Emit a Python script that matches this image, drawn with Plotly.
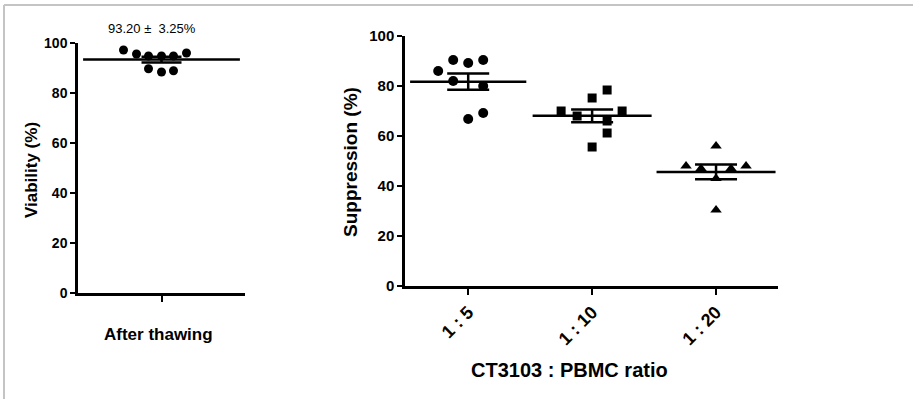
import numpy as np
import plotly.graph_objects as go

W, H = 913, 399

# ---------------- data ----------------
viability = [97.2, 95.6, 94.8, 94.8, 94.8, 96.0, 89.7, 88.4, 88.9]
viability_label = "After thawing"
viability_note = "93.20 \u00b1  3.25%"

ratios = ["1 : 5", "1 : 10", "1 : 20"]
supp_1_5 = [86.0, 90.4, 89.2, 90.4, 66.8, 69.2, 82.0, 80.0]
supp_1_10 = [78.4, 75.2, 70.0, 70.0, 61.2, 55.6, 68.0, 66.0]
supp_1_20 = [56.0, 48.0, 48.0, 30.4, 47.0, 47.0, 43.0]
y_ticks = [0, 20, 40, 60, 80, 100]

# horizontal scatter (beeswarm) offsets in pixels
off_left = [-38, -25, -13, 0, 12, 25, -13, 0, 12]
off_1_5 = [-30, -15, 0, 15, 0, 15, -15, 15]
off_1_10 = [15, 0, -31, 30, 15, 0, -15, 15]
off_1_20 = [0, -30, 30, 0, -15, 15, 0]

# ---------------- geometry (pixels) ----------------
def px(x):
    return x / W

def py(y):
    return 1 - y / H

L_X0, L_X1, L_Y0, L_Y1 = 78, 245, 293, 43
R_X0, R_X1, R_Y0, R_Y1 = 405, 778, 286, 36
L_RANGE = [-0.5, 0.5]
R_RANGE = [-0.51, 2.5]
L_UNIT = (L_X1 - L_X0) / (L_RANGE[1] - L_RANGE[0])
R_UNIT = (R_X1 - R_X0) / (R_RANGE[1] - R_RANGE[0])

FONT = "Liberation Sans, Arial, sans-serif"

fig = go.Figure()

def sem(v):
    v = np.asarray(v, float)
    return v.std(ddof=1) / np.sqrt(len(v))

# left panel points
fig.add_trace(go.Scatter(
    x=[o / L_UNIT for o in off_left], y=viability, mode="markers",
    marker=dict(symbol="circle", size=9, color="black"),
    xaxis="x", yaxis="y", showlegend=False, hoverinfo="y"))
fig.add_trace(go.Scatter(
    x=[0], y=[float(np.mean(viability))], mode="markers",
    marker=dict(symbol="line-ew", size=112, line=dict(width=2.5, color="black")),
    error_y=dict(type="data", array=[sem(viability)], thickness=2.5, width=20, color="black"),
    xaxis="x", yaxis="y", showlegend=False, hoverinfo="y"))

# right panel
groups = [(supp_1_5, off_1_5, "circle", 10, 83),
          (supp_1_10, off_1_10, "square", 9, 85),
          (supp_1_20, off_1_20, "triangle-up", 10, 85)]
for i, (vals, offs, sym, sz, mw) in enumerate(groups):
    fig.add_trace(go.Scatter(
        x=[i + o / R_UNIT for o in offs], y=vals, mode="markers",
        marker=dict(symbol=sym, size=sz, color="black"),
        xaxis="x2", yaxis="y2", showlegend=False, hoverinfo="y"))
    fig.add_trace(go.Scatter(
        x=[i], y=[float(np.mean(vals))], mode="markers",
        marker=dict(symbol="line-ew", size=mw, line=dict(width=2.5, color="black")),
        error_y=dict(type="data", array=[sem(vals)], thickness=2.5, width=21, color="black"),
        xaxis="x2", yaxis="y2", showlegend=False, hoverinfo="y"))

axis_common = dict(showline=True, linecolor="black", linewidth=2.5, ticks="outside",
                   tickcolor="black", tickwidth=2, ticklen=5, showgrid=False,
                   zeroline=False, automargin=False)
axis_x = {k: v for k, v in axis_common.items() if k != "ticklen"}

fig.update_layout(
    width=W, height=H, margin=dict(l=0, r=0, t=0, b=0),
    paper_bgcolor="white", plot_bgcolor="white",
    font=dict(family=FONT, color="black"),
    xaxis=dict(domain=[px(L_X0), px(L_X1)], range=L_RANGE, tickvals=[0], ticktext=[""],
               ticklen=6, anchor="y", **axis_x),
    yaxis=dict(domain=[py(L_Y0), py(L_Y1)], range=[0, 100], tickvals=y_ticks,
               tickfont=dict(size=14, weight="bold", family=FONT), anchor="x", **axis_common),
    xaxis2=dict(domain=[px(R_X0), px(R_X1)], range=R_RANGE, tickvals=[0, 1, 2],
                ticktext=ratios, tickangle=-45, ticklen=6,
                tickfont=dict(size=18, weight="bold", family=FONT), anchor="y2", **axis_x),
    yaxis2=dict(domain=[py(R_Y0), py(R_Y1)], range=[0, 100], tickvals=y_ticks,
                tickfont=dict(size=15, weight="bold", family=FONT), anchor="x2", **axis_common),
)

ann = [
    dict(text=viability_note, x=px(152), y=py(28), font=dict(size=13)),
    dict(text="<b>" + viability_label + "</b>", x=px(158), y=py(334), font=dict(size=17)),
    dict(text="<b>Viability (%)</b>", x=px(31), y=py(170), textangle=-90, font=dict(size=17)),
    dict(text="<b>Suppression (%)</b>", x=px(350), y=py(162), textangle=-90, font=dict(size=19)),
    dict(text="<b>CT3103 : PBMC ratio</b>", x=px(569), y=py(370), font=dict(size=20)),
]
for a in ann:
    fig.add_annotation(xref="paper", yref="paper", showarrow=False,
                       xanchor="center", yanchor="middle", **a)

# light gray frame (top and left edges)
fig.add_shape(type="line", xref="paper", yref="paper", x0=px(4), x1=1.0, y0=py(5), y1=py(5),
              line=dict(color="#c4c4c4", width=2))
fig.add_shape(type="line", xref="paper", yref="paper", x0=px(4), x1=px(4), y0=py(5), y1=0,
              line=dict(color="#c4c4c4", width=2))

fig.write_html("out.html", config={"displayModeBar": False},
               post_script="document.body.style.margin='0px';document.body.style.overflow='hidden';")
